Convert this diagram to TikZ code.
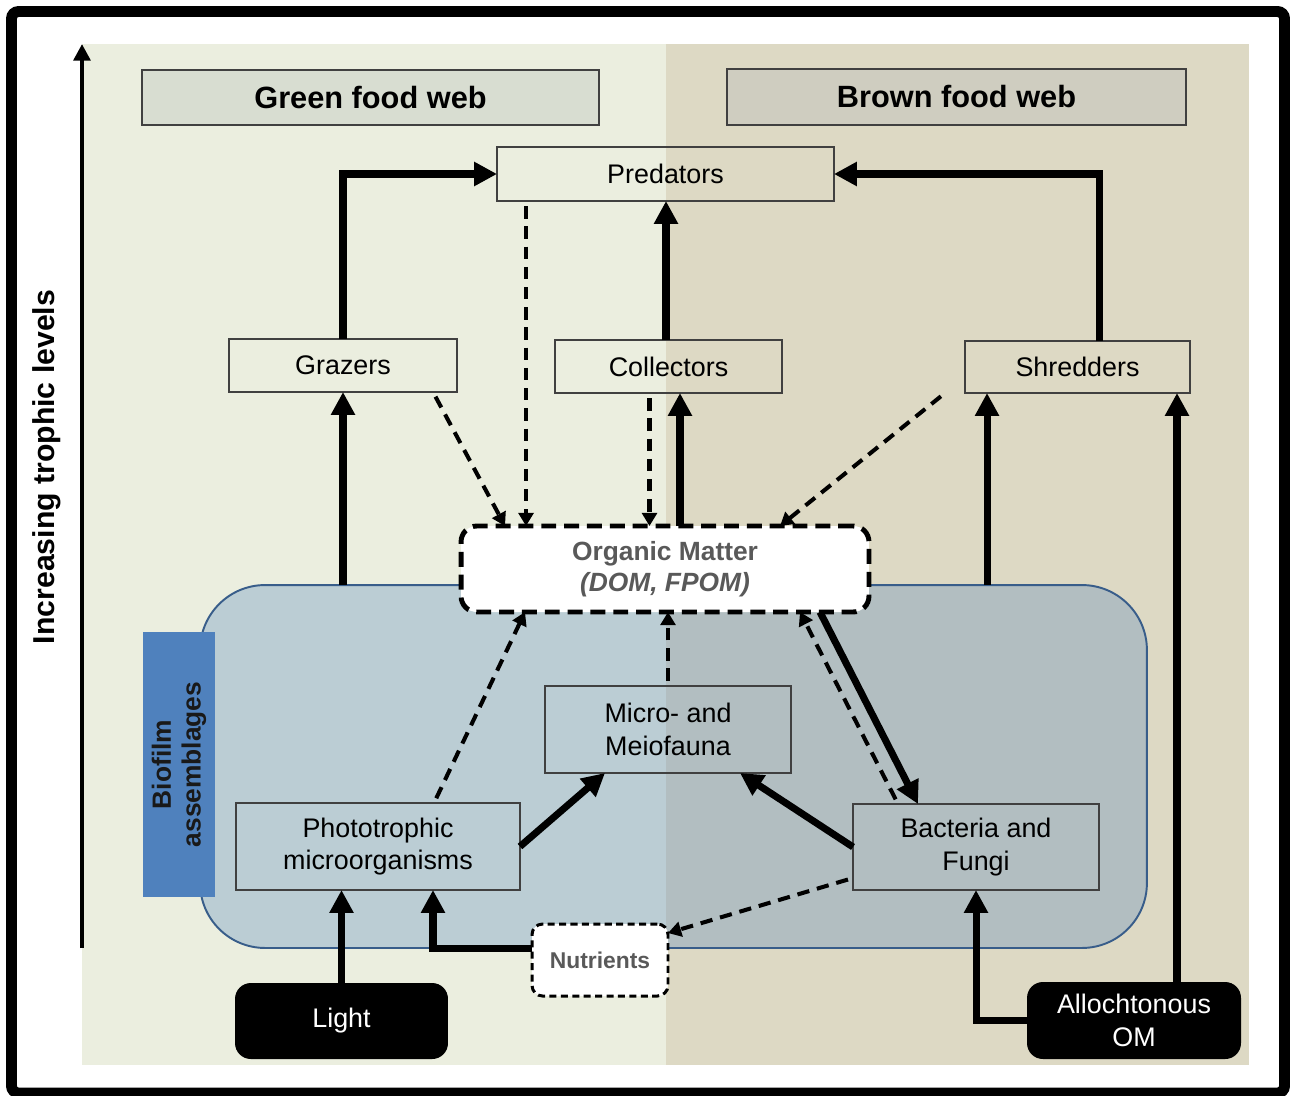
\documentclass[tikz,border=0pt]{standalone}
\usepackage{fontspec}
\setmainfont{Liberation Sans}
\usetikzlibrary{arrows.meta}
\definecolor{greenbg}{RGB}{235,238,223}
\definecolor{brownbg}{RGB}{221,217,196}
\definecolor{greentitle}{RGB}{216,221,209}
\definecolor{browntitle}{RGB}{207,205,192}
\definecolor{biofilmblue}{RGB}{79,129,189}
\definecolor{biofilmedge}{RGB}{56,93,138}
\definecolor{boxedge}{RGB}{64,64,64}
\definecolor{omgray}{RGB}{89,89,89}
\newcommand{\boxfont}{\fontsize{15.3}{18.7}\selectfont}
\tikzset{
  taxon/.style = {draw=boxedge, line width=0.85pt, align=center, font=\boxfont, inner sep=0pt, outer sep=0pt},
  webtitle/.style = {taxon, font=\fontsize{17.5}{20}\selectfont\bfseries},
  supply/.style = {fill=black, text=white, rounded corners=9pt, align=center, font=\boxfont, inner sep=0pt, outer sep=0pt},
  ompool/.style = {fill=white, draw=black, dash pattern=on 8.5pt off 4.5pt, line width=2.8pt, rounded corners=9pt, align=center, text=omgray, inner sep=0pt, outer sep=0pt}
}
\tikzset{
  feed/.style = {-{Triangle[length=13pt,width=13pt]}, line width=4pt},
  dfeed/.style = {-{Triangle[length=7.5pt,width=8.5pt]}, line width=2.3pt, dash pattern=on 7pt off 4.5pt, shorten <=3pt}
}

\begin{document}
\begin{tikzpicture}[x=0.02cm,y=-0.02cm]
  \useasboundingbox (0,0) rectangle (1290,1095);
  % frame and panels
  \draw[line width=6.2pt, rounded corners=4pt] (11.5,11.5) rectangle (1284.5,1093);
  \fill[greenbg] (82,44) rectangle (666,1065);
  \fill[brownbg] (666,44) rectangle (1249,1065);
  % axis
  \coordinate (axisfoot) at (82,948);
  \coordinate (axistip) at (82,44);
  \draw[-{Triangle[length=9.5pt,width=9.5pt]}, line width=2.3pt] (axisfoot) -- (axistip);
  \node[rotate=90, font=\fontsize{17.2}{20}\selectfont\bfseries] (axislabel) at (47,467) {Increasing trophic levels};
  % titles
  \node[webtitle, fill=greentitle, minimum width=9.14cm, minimum height=1.1cm] (greenweb) at (370.5,97.5) {Green food web};
  \node[webtitle, fill=browntitle, minimum width=9.18cm, minimum height=1.12cm] (brownweb) at (956.5,97) {Brown food web};
  % consumers
  \node[taxon, minimum width=6.74cm, minimum height=1.08cm] (predators) at (665.5,174) {Predators};
  \node[taxon, minimum width=4.56cm, minimum height=1.06cm] (grazers) at (343,365.5) {Grazers};
  \node[taxon, minimum width=4.54cm, minimum height=1.06cm] (collectors) at (668.5,366.5) {Collectors};
  \node[taxon, minimum width=4.5cm, minimum height=1.04cm] (shredders) at (1077.5,367) {Shredders};
  % biofilm
  \node[draw=biofilmedge, line width=1.1pt, fill=biofilmblue, fill opacity=0.3, rounded corners=1.3cm, minimum width=18.94cm, minimum height=7.26cm, outer sep=0pt] (biofilm) at (673.5,766.5) {};
  \node[fill=biofilmblue, minimum width=5.3cm, minimum height=1.44cm, inner sep=0pt, rotate=90, align=center, font=\fontsize{15}{17}\selectfont\bfseries, text=black!90] (biofilmlabel) at (179,764.5) {Biofilm\\assemblages};
  \node[ompool, minimum width=8.16cm, minimum height=1.72cm, font=\fontsize{15}{17.3}\selectfont\bfseries] (om) at (665,569) {Organic Matter\\\textit{(DOM, FPOM)}};
  \node[taxon, minimum width=4.92cm, minimum height=1.74cm] (micro) at (668,729.5) {Micro- and\\Meiofauna};
  \node[taxon, minimum width=5.68cm, minimum height=1.74cm] (photo) at (378,846.5) {Phototrophic\\microorganisms};
  \node[taxon, minimum width=4.92cm, minimum height=1.72cm] (bact) at (976,847) {Bacteria and\\Fungi};
  % sources
  \node[ompool, line width=1.7pt, dash pattern=on 4pt off 2.5pt, rounded corners=6pt, minimum width=2.72cm, minimum height=1.44cm, font=\fontsize{13}{15}\selectfont\bfseries] (nutrients) at (600,960) {Nutrients};
  \node[supply, minimum width=4.26cm, minimum height=1.52cm] (light) at (341.5,1021) {Light};
  \node[supply, minimum width=4.28cm, minimum height=1.54cm] (allo) at (1134,1020.5) {Allochtonous\\OM};
  % solid fluxes
  \draw[feed] (grazers.north) |- (predators.west);
  \draw[feed] ([xshift=0.44cm]shredders.north) |- (predators.east);
  \draw[feed] ([xshift=-0.05cm]collectors.north) -- ([xshift=-0.05cm]collectors.north |- predators.south);
  \draw[feed] (grazers.south |- biofilm.north) -- (grazers.south);
  \draw[feed] ([xshift=-1.81cm]shredders.south |- biofilm.north) -- ([xshift=-1.81cm]shredders.south);
  \draw[feed] ([xshift=0.86cm]allo.north) -- ([xshift=0.86cm]allo.north |- shredders.south);
  \draw[feed] (allo.west) -| (bact.south);
  \draw[feed] ([xshift=0.3cm]om.north) -- ([xshift=0.3cm]om.north |- collectors.south);
  \draw[feed] ([xshift=3.1cm]om.south) -- ([xshift=-1.16cm]bact.north);
  \draw[feed] (photo.east) -- ([xshift=-1.26cm]micro.south);
  \draw[feed] (bact.west) -- ([xshift=1.44cm]micro.south);
  \draw[feed] (light.north) -- (light.north |- photo.south);
  \draw[feed] ([yshift=0.24cm]nutrients.west) -| ([xshift=1.1cm]photo.south);
  % dashed fluxes
  \draw[dfeed] ([xshift=1.8cm]grazers.south) -- ([xshift=-3.2cm]om.north);
  \draw[dfeed] ([xshift=-2.79cm]predators.south) -- ([xshift=-2.79cm]predators.south |- om.north);
  \draw[dfeed] ([xshift=-0.38cm]collectors.south) -- ([xshift=-0.38cm]collectors.south |- om.north);
  \draw[dfeed] ([xshift=-2.65cm]shredders.south) -- ([xshift=2.3cm]om.north);
  \draw[dfeed] ([xshift=1.12cm]photo.north) -- ([xshift=-2.8cm]om.south);
  \draw[dfeed] (micro.north) -- (micro.north |- om.south);
  \draw[dfeed] ([xshift=-1.56cm]bact.north) -- ([xshift=2.7cm]om.south);
  \draw[dfeed] ([yshift=-0.62cm]bact.west) -- ([yshift=0.54cm]nutrients.east);
\end{tikzpicture}
\end{document}
